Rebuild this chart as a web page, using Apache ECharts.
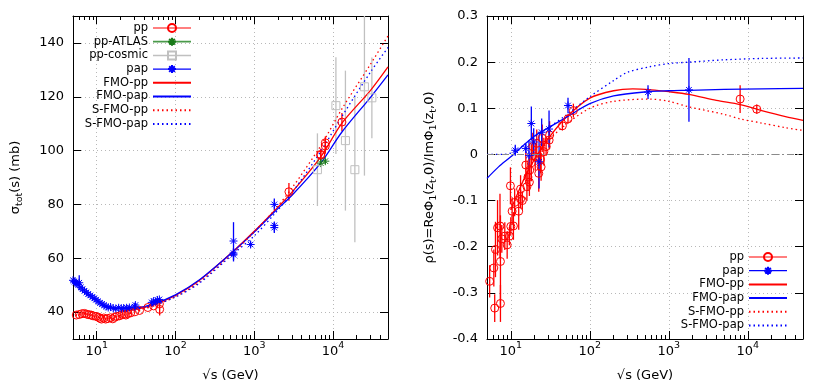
<!DOCTYPE html>
<html><head><meta charset="utf-8">
<script src="https://cdn.jsdelivr.net/npm/echarts@6/dist/echarts.min.js"></script>
<style>html,body{margin:0;padding:0;background:#fff}#c{width:830px;height:390px}</style>
</head><body><div id="c"></div>
<script>
// ---------- sigma_tot panel ----------
const ppSqrtS   = [5.5,6.0,6.5,7.0,7.5,8.0,8.5,9.0,9.8,10.5,11.0,11.5,12.3,13.0,13.8,15.0,16.0,17.0,18.0,19.5,21.0,22.5,23.5,25.0,27.0,30.5,35.0,44.7,52.8,62.5,63.0,2760,7000,7000,8000,8000,13000];
const ppSigma   = [38.9,39.1,39.4,39.5,39.2,39.0,38.9,38.6,38.4,38.1,37.7,37.4,37.8,37.4,37.6,37.9,37.5,38.1,38.4,38.6,39.1,39.2,38.9,39.5,39.7,40.1,40.6,41.7,42.3,43.0,41.0,84.7,98.3,98.6,101.7,102.9,110.6];
const ppSigmaErr= [0.5,0.4,0.4,0.5,0.4,0.4,0.4,0.4,0.4,0.4,0.5,0.4,0.4,0.4,0.4,0.4,0.4,0.4,0.4,0.4,0.4,0.3,0.3,0.4,0.4,0.3,0.4,0.4,0.3,0.4,2.3,3.3,2.0,2.2,2.9,2.3,3.4];

const atlasSqrtS = [7000, 8000];
const atlasSigma = [95.35, 96.07];
const atlasErr   = [1.36, 0.92];

const cosmicSqrtS = [6350, 10900, 14400, 18970, 25100, 31200];
const cosmicSigma = [92.9, 116.7, 103.7, 92.9, 123.7, 119.6];
const cosmicErr   = [13.5, 18, 26, 27, 33, 15];

const papSqrtS   = [5.0,5.2,5.4,5.6,5.8,6.0,6.3,6.6,7.0,7.4,7.8,8.3,8.8,9.3,9.8,10.4,11.0,11.7,12.4,13.2,14.0,15.0,16.2,17.5,19.0,20.5,22.0,24.0,26.0,30.4,31.0,50.0,52.8,56.0,59.0,62.5,546,546,546,900,1800,1800,1800];
const papSigma   = [51.8,51.4,51.0,50.6,50.2,50.9,49.2,48.5,47.9,47.3,46.7,46.2,45.6,45.1,44.6,44.0,43.4,43.0,42.5,42.1,41.7,41.9,41.4,41.3,41.6,41.4,41.5,41.6,41.7,42.0,42.6,43.6,44.1,43.9,44.5,44.7,66.4,61.9,61.3,65.1,80.0,72.2,71.4];
const papSigmaErr= [0.6,0.6,0.6,0.6,0.6,2.8,0.5,0.5,0.5,0.5,0.5,0.5,0.5,0.5,0.5,0.5,0.5,0.5,0.5,0.4,0.6,0.5,0.5,0.5,0.5,0.5,0.5,0.5,0.5,0.5,0.8,0.6,0.5,0.5,0.5,0.5,7.0,1.5,2.5,1.1,2.2,1.0,2.0];

const curvePpSqrtS  = [20,30,50,100,200,546,1000,1800,3000,7000,13000,30000,50000];
const fmoPpSigma    = [40.3,40.9,42.5,46.2,51.7,62.7,70.0,77.6,84.5,97.7,110.2,122.4,131.1];
const sfmoPpSigma   = [40.2,40.7,42.2,45.7,51.1,62.1,69.8,77.8,86.0,101.8,115.5,132.1,142.6];
const curvePapSqrtS = [12,15,20,30,50,100,200,546,1000,1800,3000,7000,13000,30000,50000];
const fmoPapSigma   = [42.2,41.7,41.4,41.5,42.8,46.4,51.9,62.6,69.7,77.2,83.3,95.4,106.9,119.8,128.1];
const sfmoPapSigma  = [42.0,41.5,41.2,41.2,42.3,45.6,50.7,61.7,68.3,76.4,84.2,99.7,112.7,129.2,138.3];

// ---------- rho panel ----------
const rhoPpSqrtS = [5.4,6.1,6.26,6.4,6.8,7.3,7.4,7.4,7.7,8.4,9.0,9.6,9.9,10.0,10.4,10.8,11.2,12.6,13.3,13.3,14.0,15.5,16.0,16.5,17.2,17.4,18.2,19.0,20.4,21.3,22.6,23.8,24.2,25.0,26.2,28.0,30.6,31.0,45,53,62,8000,13000];
const rhoPp      = [-0.275,-0.246,-0.333,-0.206,-0.159,-0.155,-0.232,-0.323,-0.183,-0.177,-0.196,-0.177,-0.068,-0.156,-0.123,-0.155,-0.104,-0.123,-0.097,-0.075,-0.100,-0.023,-0.070,-0.049,-0.060,-0.034,-0.018,0.017,-0.005,0.024,-0.041,-0.011,-0.027,0.035,0.006,0.017,0.031,0.042,0.062,0.077,0.095,0.120,0.098];
const rhoPpErr   = [0.035,0.04,0.03,0.06,0.06,0.07,0.10,0.04,0.03,0.03,0.03,0.02,0.04,0.02,0.03,0.03,0.03,0.04,0.02,0.03,0.02,0.03,0.03,0.03,0.03,0.03,0.04,0.03,0.03,0.03,0.04,0.03,0.03,0.03,0.03,0.02,0.02,0.03,0.01,0.01,0.015,0.03,0.01];

const rhoPapSqrtS = [11.4,15.5,17.0,18.2,19.5,22.8,24.6,30.5,53,546,1800];
const rhoPap      = [0.009,0.013,-0.002,0.067,0.027,-0.016,0.048,0.055,0.106,0.135,0.140];
const rhoPapErr   = [0.012,0.010,0.030,0.037,0.030,0.058,0.030,0.040,0.017,0.015,0.069];

const rhoFmoPpSqrtS  = [10,15,20,30,50,100,200,350,600,1000,1800,4000,8000,15000,30000,50000];
const rhoFmoPp       = [-0.12,-0.05,-0.01,0.035,0.08,0.122,0.138,0.142,0.140,0.136,0.130,0.117,0.108,0.095,0.082,0.074];
const rhoSfmoPpSqrtS = [10,15,20,30,50,100,200,574,1000,1800,5000,8000,15000,30000,50000];
const rhoSfmoPp      = [-0.12,-0.05,-0.012,0.03,0.065,0.100,0.115,0.120,0.115,0.103,0.087,0.077,0.068,0.058,0.052];
const rhoFmoPapSqrtS = [5,7,10,15,20,30,50,100,200,546,1000,1800,5000,15000,50000];
const rhoFmoPap      = [-0.052,-0.027,-0.005,0.022,0.04,0.058,0.080,0.110,0.127,0.136,0.138,0.139,0.141,0.142,0.143];
const rhoSfmoPapSqrtS= [5,8,10,12,15,20,30,50,100,200,300,574,1000,1800,5000,15000,50000];
const rhoSfmoPap     = [0.0,0.0,0.003,0.010,0.022,0.038,0.058,0.085,0.125,0.160,0.178,0.190,0.197,0.200,0.205,0.208,0.209];

// ---------- axes ticks ----------
const xMajorTicks = [10,100,1000,10000];
const xMinorTicks = [6,7,8,9,20,30,40,50,60,70,80,90,200,300,400,500,600,700,800,900,2000,3000,4000,5000,6000,7000,8000,9000,20000,30000,40000];
const sigmaTicks  = [40,60,80,100,120,140];

const legendLeft  = ['pp','pp-ATLAS','pp-cosmic','pap','FMO-pp','FMO-pap','S-FMO-pp','S-FMO-pap'];
const legendRight = ['pp','pap','FMO-pp','FMO-pap','S-FMO-pp','S-FMO-pap'];

// ---------- build ----------
const FONT = 'DejaVu Sans';
const RED = '#ff0000', BLUE = '#0000ff', GREEN = '#1a7a1a', GREY = '#c0c0c0';
const ASTER = 'path://M5,0L5,10M0,5L10,5M1.5,1.5L8.5,8.5M1.5,8.5L8.5,1.5';
const pts = (xs, ys) => xs.map((x, i) => [x, ys[i]]);
const errs = (xs, ys, es) => xs.map((x, i) => [x, ys[i] - es[i], ys[i] + es[i]]);

function xAxesFor(g) {
  const base = {type:'log', logBase:10, gridIndex:g, min:5, max:50000};
  return [
    Object.assign({}, base, {position:'bottom',
      axisLine:{show:true, onZero:false, lineStyle:{color:'#000', width:1}},
      axisTick:{show:true, inside:true, length:8, customValues:xMajorTicks, lineStyle:{color:'#000'}},
      axisLabel:{customValues:xMajorTicks, margin:2, formatter:v => '{b|10}{s|' + Math.round(Math.log10(v)) + '}',
        rich:{b:{fontFamily:FONT, fontSize:13, color:'#000', verticalAlign:'bottom'},
              s:{fontFamily:FONT, fontSize:9.5, color:'#000', verticalAlign:'bottom', padding:[0,0,7,0]}}},
      splitLine:{show:true, lineStyle:{color:'#b8b8b8', width:1, type:[1,3]}},
      name:'√s (GeV)', nameLocation:'middle', nameGap:30,
      nameTextStyle:{fontFamily:FONT, fontSize:13, color:'#000'}}),
    Object.assign({}, base, {position:'bottom', axisLine:{show:false, onZero:false},
      axisTick:{show:true, inside:true, length:4, customValues:xMinorTicks, lineStyle:{color:'#000'}},
      axisLabel:{show:false}, splitLine:{show:false}}),
    Object.assign({}, base, {position:'top',
      axisLine:{show:true, onZero:false, lineStyle:{color:'#000', width:1}},
      axisTick:{show:true, inside:true, length:8, customValues:xMajorTicks, lineStyle:{color:'#000'}},
      axisLabel:{show:false}, splitLine:{show:false}}),
    Object.assign({}, base, {position:'top', axisLine:{show:false, onZero:false},
      axisTick:{show:true, inside:true, length:4, customValues:xMinorTicks, lineStyle:{color:'#000'}},
      axisLabel:{show:false}, splitLine:{show:false}})
  ];
}
const nameRich = {
  t:{fontFamily:FONT, fontSize:13, color:'#000', verticalAlign:'bottom', padding:[0,0,3,0]},
  s:{fontFamily:FONT, fontSize:9.5, color:'#000', verticalAlign:'bottom'}
};
function yAxesFor(g, min, max, extra, name) {
  const base = {type:'value', gridIndex:g, min:min, max:max};
  return [
    Object.assign({}, base, extra.main, {position:'left',
      axisLine:{show:true, onZero:false, lineStyle:{color:'#000', width:1}},
      axisTick:Object.assign({show:true, inside:true, length:8, lineStyle:{color:'#000'}}, extra.tick),
      axisLabel:Object.assign({margin:9, fontFamily:FONT, fontSize:13, color:'#000'}, extra.label),
      splitLine:{show:true, lineStyle:{color:'#b8b8b8', width:1, type:[1,3]}},
      name:name, nameLocation:'middle', nameGap:48, nameTextStyle:{rich:nameRich}}),
    Object.assign({}, base, extra.main, {position:'right',
      axisLine:{show:true, onZero:false, lineStyle:{color:'#000', width:1}},
      axisTick:Object.assign({show:true, inside:true, length:8, lineStyle:{color:'#000'}}, extra.tick),
      axisLabel:{show:false}, splitLine:{show:false}})
  ];
}

function dataSeries(name, xi, yi, xs, ys, es, color, symbol, size) {
  return [
    {type:'custom', name:name + '-err', xAxisIndex:xi, yAxisIndex:yi, silent:true,
     encode:{x:0, y:[1,2]}, data:errs(xs, ys, es),
     renderItem:function(params, api) {
       const p1 = api.coord([api.value(0), api.value(1)]);
       const p2 = api.coord([api.value(0), api.value(2)]);
       const cs = params.coordSys;
       const clamp = y => Math.min(Math.max(y, cs.y), cs.y + cs.height);
       return {type:'line', shape:{x1:p1[0], y1:clamp(p1[1]), x2:p2[0], y2:clamp(p2[1])},
               style:{stroke:color, lineWidth:1.3}};
     }},
    {type:'line', name:name, xAxisIndex:xi, yAxisIndex:yi, data:pts(xs, ys),
     symbol:symbol, symbolSize:size, showSymbol:true, showAllSymbol:true,
     lineStyle:{width:0, opacity:0}, color:color,
     itemStyle:{color:symbol === ASTER ? color : 'rgba(0,0,0,0)', borderColor:color, borderWidth:1, opacity:1}}
  ];
}
function curve(name, xi, yi, xs, ys, color, dotted, extra) {
  return Object.assign({type:'line', name:name, xAxisIndex:xi, yAxisIndex:yi, data:pts(xs, ys),
    symbol:'none', showSymbol:false, smooth:0.3, color:color,
    lineStyle:{color:color, width:1.3, type:dotted ? [1.5,3] : 'solid'}}, extra || {});
}

const series = [].concat(
  dataSeries('pp', 0, 0, ppSqrtS, ppSigma, ppSigmaErr, RED, 'circle', 8),
  dataSeries('pp-ATLAS', 0, 0, atlasSqrtS, atlasSigma, atlasErr, GREEN, ASTER, 8),
  dataSeries('pp-cosmic', 0, 0, cosmicSqrtS, cosmicSigma, cosmicErr, GREY, 'rect', 8),
  dataSeries('pap', 0, 0, papSqrtS, papSigma, papSigmaErr, BLUE, ASTER, 8),
  [curve('FMO-pp', 0, 0, curvePpSqrtS, fmoPpSigma, RED, false),
   curve('FMO-pap', 0, 0, curvePapSqrtS, fmoPapSigma, BLUE, false),
   curve('S-FMO-pp', 0, 0, curvePpSqrtS, sfmoPpSigma, RED, true),
   curve('S-FMO-pap', 0, 0, curvePapSqrtS, sfmoPapSigma, BLUE, true)],
  dataSeries('pp', 4, 2, rhoPpSqrtS, rhoPp, rhoPpErr, RED, 'circle', 8),
  dataSeries('pap', 4, 2, rhoPapSqrtS, rhoPap, rhoPapErr, BLUE, ASTER, 8),
  [curve('FMO-pp', 4, 2, rhoFmoPpSqrtS, rhoFmoPp, RED, false, {
     markLine:{silent:true, symbol:'none', label:{show:false},
       lineStyle:{color:'#8a8a8a', width:1, type:[7,3,2,3]}, data:[{yAxis:0}]}}),
   curve('FMO-pap', 4, 2, rhoFmoPapSqrtS, rhoFmoPap, BLUE, false),
   curve('S-FMO-pp', 4, 2, rhoSfmoPpSqrtS, rhoSfmoPp, RED, true),
   curve('S-FMO-pap', 4, 2, rhoSfmoPapSqrtS, rhoSfmoPap, BLUE, true)]
);

const legendLine = {
  'pp':{color:RED, width:1.2, opacity:1, type:'solid'},
  'pp-ATLAS':{color:'#4a9a4a', width:1.8, opacity:1, type:'solid'},
  'pp-cosmic':{color:GREY, width:1.5, opacity:1, type:'solid'},
  'pap':{color:BLUE, width:1.2, opacity:1, type:'solid'}
};
function legendFor(names, left, top) {
  return {orient:'vertical', left:left, top:top, align:'right', selectedMode:false,
    itemWidth:38, itemHeight:10, itemGap:1.7, padding:0,
    textStyle:{fontFamily:FONT, fontSize:11.5, color:'#000', width:66, align:'right', lineHeight:12},
    data:names.map(n => legendLine[n]
      ? {name:n, lineStyle:legendLine[n]}
      : {name:n, itemStyle:{opacity:0, color:'rgba(0,0,0,0)', borderWidth:0}})};
}

const option = {
  animation:false,
  backgroundColor:'#fff',
  grid:[{left:73, top:16, width:315, height:323}, {left:487, top:16, width:316, height:323}],
  xAxis:[].concat(xAxesFor(0), xAxesFor(1)),
  yAxis:[].concat(
    yAxesFor(0, 30, 150, {main:{}, tick:{customValues:sigmaTicks}, label:{customValues:sigmaTicks}},
      '{t|σ}{s|tot}{t|(s) (mb)}'),
    yAxesFor(1, -0.4, 0.3, {main:{interval:0.1}, tick:{}, label:{}},
      '{t|ρ(s)=ReΦ}{s|1}{t|(z}{s|t}{t|,0)/ImΦ}{s|1}{t|(z}{s|t}{t|,0)}')
  ),
  legend:[legendFor(legendLeft, 82, 22), legendFor(legendRight, 678, 251)],
  series:series
};
const chart = echarts.init(document.getElementById('c'), null, {renderer:'canvas'});
chart.setOption(option);
</script></body></html>
